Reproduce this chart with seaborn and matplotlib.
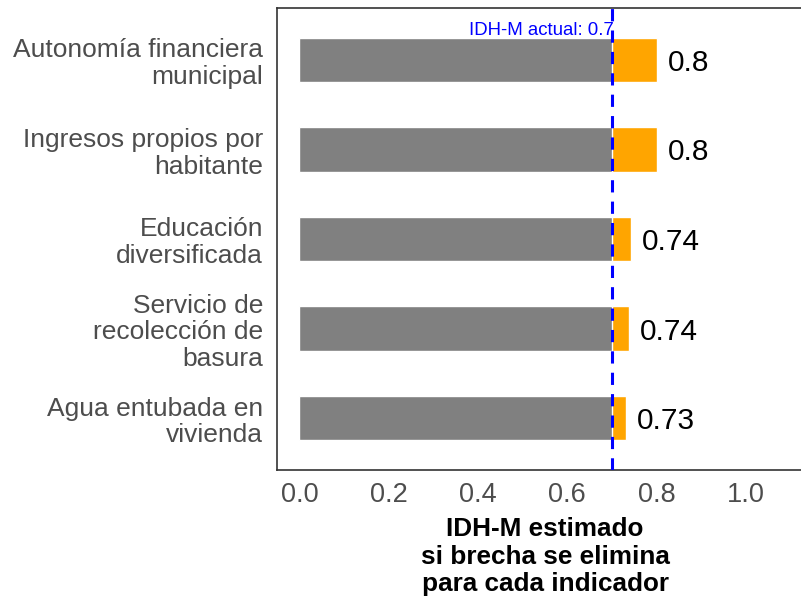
import matplotlib
matplotlib.use("Agg")
import matplotlib.pyplot as plt
import seaborn as sns
import pandas as pd

# Indicators and the estimated IDH-M if each gap were closed
indicadores = [
    "Autonomía financiera\nmunicipal",
    "Ingresos propios por\nhabitante",
    "Educación\ndiversificada",
    "Servicio de\nrecolección de\nbasura",
    "Agua entubada en\nvivienda",
]
idh_estimado = [0.80, 0.80, 0.742, 0.738, 0.731]
idh_actual = 0.70
xticks = [0.0, 0.2, 0.4, 0.6, 0.8, 1.0]

sns.set_theme(style="white")
plt.rcParams["font.family"] = ["Liberation Sans", "DejaVu Sans"]

df = pd.DataFrame({
    "indicador": indicadores,
    "estimado": idh_estimado,
    "actual": [idh_actual] * len(indicadores),
})

fig = plt.figure(figsize=(8.01, 5.99), dpi=100)
ax = fig.add_axes([277 / 801, 129 / 599, 536 / 801, 462 / 599])

# Orange: full estimated value; grey: current value drawn on top
sns.barplot(data=df, y="indicador", x="estimado", color="#FFA500", width=0.5,
            saturation=1, errorbar=None, orient="h", ax=ax)
sns.barplot(data=df, y="indicador", x="actual", color="#808080", width=0.5,
            saturation=1, errorbar=None, orient="h", ax=ax)

ax.axvline(idh_actual, color="#0000FF", lw=2.2, ls=(0, (4, 3)), zorder=5)
ax.text(idh_actual + 0.0045, -0.33, f"IDH-M actual: {idh_actual:g}", color="#0000FF",
        ha="right", va="center", fontsize=13.4, zorder=6)

for i, v in enumerate(idh_estimado):
    ax.text(v + 0.025, i, f"{round(v, 2):g}", ha="left", va="center_baseline",
            fontsize=21.5, color="black")

ax.set_xlim(-0.05, 1.15)
ax.set_ylim(4.58, -0.58)
ax.set_xticks(xticks)
ax.set_xticklabels([f"{t:.1f}" for t in xticks])
ax.tick_params(axis="both", length=0, labelcolor="#4d4d4d")
ax.tick_params(axis="x", pad=9, labelsize=19.5)
ax.tick_params(axis="y", pad=10, labelsize=19)
for lab in ax.get_yticklabels():
    lab.set_linespacing(1.14)

ax.set_ylabel("")
ax.set_xlabel("IDH-M estimado\nsi brecha se elimina\npara cada indicador",
              fontsize=18.8, fontweight="bold", color="black", labelpad=6,
              linespacing=1.2)

for side in ["top", "left", "bottom"]:
    ax.spines[side].set_color("#333333")
    ax.spines[side].set_linewidth(1.2)
ax.spines["right"].set_visible(False)

fig.savefig("out.png", dpi=100)
